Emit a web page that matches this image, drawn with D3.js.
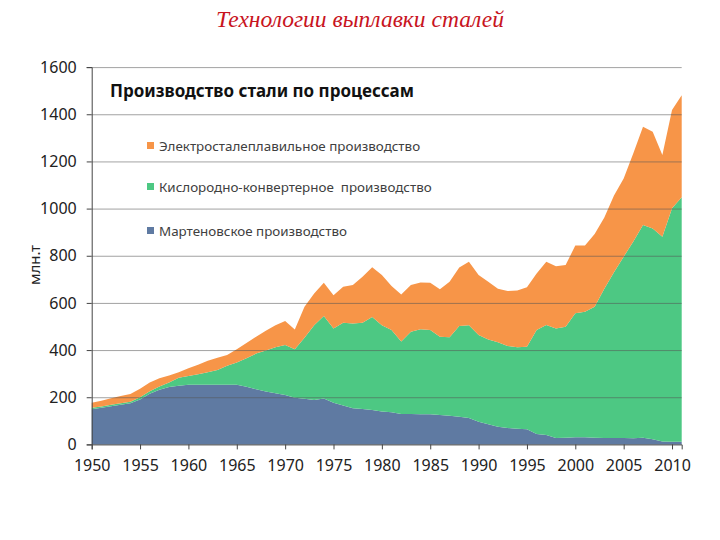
<!DOCTYPE html>
<html><head><meta charset="utf-8">
<script src="https://cdn.jsdelivr.net/npm/d3@7/dist/d3.min.js"></script>
<style>body{margin:0;background:#fff}svg{display:block}</style>
</head><body>
<svg id="c" width="720" height="540"></svg>
<script>
const years = d3.range(1950, 2012);
// stacked totals (млн.т)
const openHearth = [149,155,162,168,174,190,215,232,243,249,253,253,253,253,253,253,244,234,224,217,209,198,194,188,195,177,165,153,150,146,139,136,129,129,128,128,125,122,117,112,96,85,75,70,66,64,44,40,27,28,30,30,28,27,27,27,26,28,22,12,11,11];
const oxygenTop = [155,161,168,174,181,200,225,246,263,283,290,298,306,316,333,347,365,385,398,412,421,403,452,505,544,492,516,513,516,540,505,485,436,478,488,485,457,454,502,505,464,445,433,417,412,414,485,506,492,499,556,563,584,660,730,796,860,930,916,881,1001,1048];
const totalTop = [177,185,196,205,214,236,262,280,292,306,323,338,355,367,379,403,430,457,482,505,523,487,584,640,685,633,669,676,711,751,718,672,636,676,687,686,658,690,750,775,718,690,660,650,653,666,725,775,756,761,843,843,892,962,1055,1128,1235,1347,1326,1227,1418,1481];
const seriesNames = ["Мартеновское производство","Кислородно-конвертерное  производство","Электросталеплавильное производство"];
const seriesColors = ["#5F7AA2","#4DC883","#F79548"];
const yTicks = [0,200,400,600,800,1000,1200,1400,1600];
const xTicks = d3.range(1950, 2011, 5);

const rows = years.map((y,i)=>({year:y, m:openHearth[i], o:oxygenTop[i]-openHearth[i], e:totalTop[i]-oxygenTop[i]}));
const keys = ["m","o","e"];

const svg = d3.select("#c");
const x = d3.scaleLinear().domain([1950,2011]).range([91.7,681.7]);
const y = d3.scaleLinear().domain([0,1600]).range([444.4,67.1]);

svg.append("text").attr("x",360).attr("y",27).attr("text-anchor","middle")
  .attr("font-family","Liberation Serif, Times New Roman, serif").attr("font-style","italic")
  .attr("font-size",23.5).attr("fill","#C8141E").text("Технологии выплавки сталей");

const stack = d3.stack().keys(keys)(rows);
const area = d3.area().x(d=>x(d.data.year)).y0(d=>y(d[0])).y1(d=>y(d[1]));
svg.append("g").selectAll("path").data(stack).join("path")
  .attr("d",area).attr("fill",(d,i)=>seriesColors[i]);

// gridlines over areas
svg.append("g").selectAll("line").data(yTicks.filter(t=>t>0)).join("line")
  .attr("x1",x(1950)).attr("x2",x(2011)).attr("y1",d=>y(d)+0.5).attr("y2",d=>y(d)+0.5)
  .attr("stroke","#555").attr("stroke-opacity",0.55).attr("stroke-width",1);

const yAxis = svg.append("g").attr("transform",`translate(${x(1950)},0)`)
  .call(d3.axisLeft(y).tickValues(yTicks).tickSize(5).tickPadding(10).tickFormat(d3.format("d")));
yAxis.select(".domain").attr("stroke","#444");
yAxis.selectAll(".tick line").attr("stroke","#444");
yAxis.selectAll("text").attr("font-family","Noto Sans, sans-serif").attr("font-size",16).attr("fill","#222");

const xAxis = svg.append("g").attr("transform",`translate(0,${y(0)})`)
  .call(d3.axisBottom(x).tickValues(xTicks).tickSize(5).tickPadding(10).tickFormat(d3.format("d")));
xAxis.select(".domain").attr("stroke","#444");
xAxis.selectAll(".tick line").attr("stroke","#444");
xAxis.selectAll("text").attr("font-family","Noto Sans, sans-serif").attr("font-size",16).attr("fill","#222");

svg.append("text").attr("transform","translate(40,265) rotate(-90)").attr("text-anchor","middle")
  .attr("font-family","Noto Sans, sans-serif").attr("font-size",15).attr("fill","#222").text("млн.т");

svg.append("text").attr("x",110).attr("y",97).attr("font-family","Noto Sans, sans-serif")
  .attr("font-weight","bold").attr("font-size",17).attr("fill","#111").text("Производство стали по процессам");

const legendY = [231,187,146];
const lg = svg.append("g").selectAll("g").data(seriesNames).join("g")
  .attr("transform",(d,i)=>`translate(147,${legendY[i]})`);
lg.append("rect").attr("x",0).attr("y",-4).attr("width",7).attr("height",7).attr("fill",(d,i)=>seriesColors[i]);
lg.append("text").attr("x",12).attr("y",5).attr("font-family","Noto Sans, sans-serif")
  .attr("font-size",13.4).attr("fill","#404040").style("white-space","pre").text(d=>d);
</script>
</body></html>
